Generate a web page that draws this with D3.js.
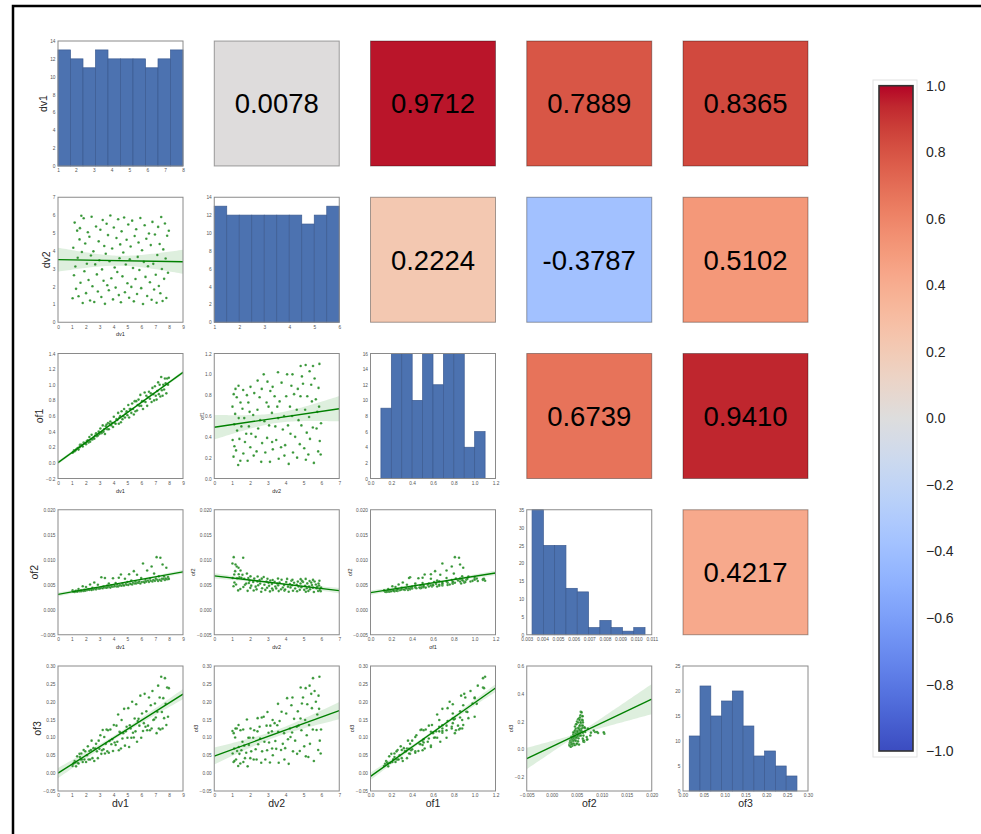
<!DOCTYPE html>
<html>
<head>
<meta charset="utf-8">
<script src="https://cdnjs.cloudflare.com/ajax/libs/d3/7.8.5/d3.min.js"></script>
<style>
body { margin: 0; background: #fff; }
svg text { font-family: "Liberation Sans", Arial, sans-serif; }
</style>
</head>
<body>
<div id="svg-holder"></div>
<script>
const names = ["dv1", "dv2", "of1", "of2", "of3"]

const dv1 = [1.05,1.10,1.15,1.20,1.25,1.30,1.38,1.42,1.48,1.55,1.58,1.62,1.68,
    1.72,1.78,1.85,1.90,1.96,2.02,2.08,2.15,2.20,2.26,2.31,2.37,
    2.42,2.48,2.55,2.61,2.68,2.74,2.80,2.87,2.93,2.98,3.05,
    3.12,3.17,3.22,3.28,3.33,3.38,3.44,3.50,3.55,3.60,3.66,3.71,3.77,
    3.84,3.90,3.96,4.02,4.08,4.15,4.21,4.27,4.33,4.38,4.43,4.48,
    4.53,4.58,4.64,4.70,4.76,4.82,4.88,4.94,5.00,5.06,5.12,5.17,
    5.23,5.28,5.34,5.40,5.46,5.52,5.58,5.63,5.69,5.74,5.80,5.86,
    5.93,5.99,6.05,6.12,6.18,6.24,6.30,6.36,6.42,6.48,6.55,
    6.62,6.68,6.74,6.80,6.86,6.92,6.98,7.04,7.10,7.15,7.21,7.26,
    7.32,7.37,7.43,7.48,7.53,7.58,7.64,7.70,7.75,7.80,7.86,7.92,7.98]
const dv2 = [1.34,4.17,2.63,5.58,3.12,1.87,5.13,3.61,1.46,4.64,5.27,2.21,5.96,
    3.93,1.08,5.82,2.86,4.41,1.63,3.28,5.04,2.37,4.79,1.22,3.74,
    5.91,2.02,3.97,1.13,3.24,5.36,2.68,1.72,4.53,3.47,5.18,
    1.41,2.96,5.73,2.32,4.27,1.03,3.84,5.52,2.07,4.88,1.79,3.42,5.98,
    2.46,4.13,1.28,5.31,3.07,1.94,4.72,2.81,5.77,1.52,3.58,4.36,
    1.12,5.09,2.57,3.91,5.87,1.68,3.23,4.62,2.18,5.47,1.37,3.53,
    4.24,1.98,5.69,3.04,1.17,4.83,2.42,5.21,1.58,3.66,4.47,2.93,
    5.84,1.91,4.03,1.02,3.38,5.43,2.54,4.68,1.47,3.14,4.97,
    2.24,4.32,1.26,5.62,3.27,1.83,4.91,2.66,1.09,3.77,5.34,2.03,
    4.38,1.62,5.89,2.98,1.19,4.08,2.43,5.53,3.57,1.36,4.84,2.77,5.12]
const of1 = [0.13,0.14,0.16,0.15,0.16,0.17,0.18,0.19,0.17,0.20,0.23,0.22,0.23,
    0.22,0.21,0.26,0.25,0.25,0.24,0.28,0.29,0.26,0.33,0.27,0.30,
    0.36,0.30,0.32,0.31,0.35,0.38,0.34,0.35,0.40,0.37,0.44,
    0.38,0.39,0.48,0.40,0.43,0.37,0.47,0.49,0.43,0.51,0.43,0.50,0.53,
    0.48,0.51,0.46,0.59,0.51,0.50,0.56,0.55,0.64,0.50,0.58,0.60,
    0.52,0.66,0.56,0.60,0.69,0.58,0.63,0.66,0.61,0.74,0.58,0.69,
    0.69,0.64,0.76,0.69,0.62,0.79,0.66,0.79,0.67,0.74,0.81,0.73,
    0.87,0.73,0.79,0.69,0.79,0.90,0.78,0.86,0.73,0.84,0.91,
    0.82,0.89,0.78,0.96,0.88,0.80,0.98,0.86,0.81,0.92,1.03,0.88,
    1.00,0.85,1.10,0.93,0.86,1.00,0.94,1.08,1.02,0.89,1.08,1.00,1.09]
const of2 = [0.00387,0.00359,0.00359,0.00356,0.00367,0.00378,0.00360,0.00373,0.00414,0.00370,0.00374,0.00384,0.00372,
    0.00383,0.00471,0.00374,0.00397,0.00381,0.00454,0.00393,0.00398,0.00408,0.00398,0.00506,0.00408,
    0.00395,0.00438,0.00406,0.00545,0.00426,0.00408,0.00429,0.00500,0.00426,0.00427,0.00430,
    0.00650,0.00440,0.00429,0.00462,0.00447,0.00635,0.00444,0.00442,0.00482,0.00452,0.00525,0.00464,0.00443,
    0.00490,0.00462,0.00630,0.00464,0.00478,0.00534,0.00465,0.00501,0.00464,0.00639,0.00488,0.00490,
    0.00706,0.00481,0.00523,0.00493,0.00484,0.00620,0.00517,0.00499,0.00555,0.00495,0.00710,0.00525,
    0.00515,0.00583,0.00505,0.00539,0.00772,0.00524,0.00567,0.00527,0.00699,0.00542,0.00541,0.00564,
    0.00526,0.00634,0.00556,0.00926,0.00558,0.00543,0.00596,0.00563,0.00784,0.00585,0.00557,
    0.00623,0.00581,0.00866,0.00565,0.00594,0.00723,0.00578,0.00622,0.01052,0.00600,0.00574,0.00668,
    0.00600,0.01040,0.00580,0.00620,0.00905,0.00617,0.00666,0.00597,0.00623,0.00840,0.00612,0.00654,0.00617]
const of3 = [0.020,0.026,0.029,0.034,0.030,0.019,0.047,0.029,0.027,0.054,0.045,0.038,0.055,
    0.038,0.031,0.065,0.038,0.061,0.031,0.050,0.075,0.038,0.062,0.038,0.065,
    0.091,0.042,0.070,0.034,0.069,0.082,0.061,0.042,0.091,0.068,0.106,
    0.054,0.064,0.121,0.067,0.101,0.055,0.082,0.122,0.061,0.120,0.057,0.090,0.122,
    0.081,0.095,0.062,0.135,0.086,0.079,0.133,0.088,0.164,0.064,0.116,0.114,
    0.069,0.149,0.097,0.112,0.180,0.077,0.117,0.130,0.099,0.182,0.073,0.134,
    0.125,0.099,0.200,0.113,0.100,0.153,0.117,0.193,0.088,0.146,0.152,0.133,
    0.217,0.099,0.167,0.118,0.140,0.222,0.130,0.173,0.120,0.133,0.212,
    0.120,0.190,0.125,0.230,0.149,0.150,0.195,0.156,0.112,0.172,0.245,0.125,
    0.212,0.122,0.270,0.171,0.125,0.210,0.154,0.266,0.194,0.135,0.240,0.158,0.238]
const columns = [dv1, dv2, of1, of2, of3]

// diagonal histograms: 10 bins each, and where the bins start / end
const histDv1 = [13,12,11,13,12,12,12,11,12,13]
const histDv2 = [13,12,12,12,12,12,12,11,12,13]
const histOf1 = [9,16,16,10,16,12,16,16,4,6]
const histOf2 = [35,25,25,13,12,2,4,2,1,2]
const histOf3 = [11,21,15,18,20,13,7,8,5,3]
const histCounts = [histDv1, histDv2, histOf1, histOf2, histOf3]
const histSpan = [[1,8],[1,6],[0.1,1.1],[0.00334,0.01057],[0.015,0.2735]]

// correlation labels, upper triangle read row by row
const corrRows = [0,0,0,0,1,1,1,2,2,3]
const corrCols = [1,2,3,4,2,3,4,3,4,4]
const corrValues = [0.0078,0.9712,0.7889,0.8365,0.2224,-0.3787,0.5102,0.6739,0.9410,0.4217]

// tick labels
const ticksDv1 = [0,1,2,3,4,5,6,7,8,9]
const ticksDv2 = [0,1,2,3,4,5,6,7]
const ticksOf1 = [0,0.2,0.4,0.6,0.8,1.0,1.2]
const ticksOf1Wide = [-0.2,0,0.2,0.4,0.6,0.8,1.0,1.2,1.4]
const ticksOf2 = [-0.005,0,0.005,0.010,0.015,0.020]
const ticksOf3 = [-0.05,0,0.05,0.10,0.15,0.20,0.25,0.30]
const ticksOf3Wide = [-0.2,0,0.2,0.4,0.6]
const histTicksX = [[1,2,3,4,5,6,7,8],[1,2,3,4,5,6],ticksOf1,
    [0.003,0.004,0.005,0.006,0.007,0.008,0.009,0.010,0.011],[0,0.05,0.10,0.15,0.20,0.25,0.30]]
const histTicksY = [[0,2,4,6,8,10,12,14],[0,2,4,6,8,10,12,14],[0,2,4,6,8,10,12,14,16],
    [0,5,10,15,20,25,30,35],[0,5,10,15,20,25]]
const cbTicks = [-1,-0.8,-0.6,-0.4,-0.2,0,0.2,0.4,0.6,0.8,1]

const axisDomain = [[0,9],[0,7],[0,1.2],[-0.005,0.02],[-0.05,0.3]]
const axisTicks = [ticksDv1, ticksDv2, ticksOf1, ticksOf2, ticksOf3]
const axisFmt = ["d", "d", ".1f", ".3f", ".2f"]

// coolwarm
const coolwarm = ["#3b4cc0","#445acc","#4d68d7","#5775e1","#6282ea","#6c8ef1","#779af7","#82a5fb",
    "#8db0fe","#98b9ff","#a3c2ff","#aec9fd","#b8d0f9","#c2d5f4","#ccd9ee","#d5dbe6","#dddddd",
    "#e5d8d1","#ecd3c5","#f1ccb8","#f5c4ac","#f7bba0","#f7b194","#f7a689","#f49a7b","#f18d70",
    "#ec7f63","#e57058","#de604d","#d55042","#cb3e38","#c0282f","#b40426"]
const color = d3.scaleLinear()
    .domain(coolwarm.map((c, i) => -1 + 2 * i / (coolwarm.length - 1)))
    .range(coolwarm)

let svg = d3.select("#svg-holder").append("svg"),
    width = 981,
    height = 834
svg.attr("width", width).attr("height", height)

// figure border, only top and left are in view
svg.append("rect")
    .attr("x", 13).attr("y", 6)
    .attr("width", 1100).attr("height", 1000)
    .attr("fill", "none").attr("stroke", "black").attr("stroke-width", 2.5)

const cell = 125, step = 156.25, left0 = 58, top0 = 41

function drawAxes(g, x, y, xt, yt, xf, yf) {
    let gx = g.append("g").attr("transform", `translate(0,${cell})`)
        .call(d3.axisBottom(x).tickValues(xt).tickFormat(d3.format(xf)).tickSize(0).tickPadding(3))
    let gy = g.append("g")
        .call(d3.axisLeft(y).tickValues(yt).tickFormat(d3.format(yf)).tickSize(0).tickPadding(2.5))
    ;[gx, gy].forEach(a => {
        a.select(".domain").remove()
        a.attr("font-size", 4.8).attr("font-family", null)
        a.selectAll("text").attr("fill", "#555")
    })
    return d3.max(gy.selectAll("text").nodes(), n => n.getComputedTextLength())
}

function frame(g) {
    g.append("rect")
        .attr("width", cell).attr("height", cell)
        .attr("fill", "none").attr("stroke", "#8a8a8a").attr("stroke-width", 1)
}

function regress(xs, ys) {
    let n = xs.length, mx = d3.mean(xs), my = d3.mean(ys)
    let sxx = d3.sum(xs, v => (v - mx) ** 2)
    let sxy = d3.sum(xs, (v, i) => (v - mx) * (ys[i] - my))
    let b = sxy / sxx, a = my - b * mx
    let s = Math.sqrt(d3.sum(xs, (v, i) => (ys[i] - a - b * v) ** 2) / (n - 2))
    return { fit: v => a + b * v, ci: v => 1.98 * s * Math.sqrt(1 / n + (v - mx) ** 2 / sxx) }
}

function yLabel(g, txt, w, big) {
    let off = big ? 6.5 : 3.5
    g.append("text")
        .attr("transform", `translate(${-2.5 - w - off},${cell / 2}) rotate(-90)`)
        .attr("text-anchor", "middle").attr("dy", "0.35em")
        .attr("font-size", big ? 10.5 : 5.5).attr("fill", "#262626")
        .text(txt)
}

function xLabel(g, txt, big) {
    g.append("text")
        .attr("x", cell / 2).attr("y", cell + (big ? 16 : 14))
        .attr("text-anchor", "middle")
        .attr("font-size", big ? 10.5 : 5.5).attr("fill", "#262626")
        .text(txt)
}

// histograms on the diagonal
function drawHist(i) {
    let g = svg.append("g").attr("transform", `translate(${left0 + i * step},${top0 + i * step})`)
    let xt = histTicksX[i], yt = histTicksY[i]
    let x = d3.scaleLinear().domain([xt[0], xt[xt.length - 1]]).range([0, cell])
    let y = d3.scaleLinear().domain([0, yt[yt.length - 1]]).range([cell, 0])
    let counts = histCounts[i], span = histSpan[i]
    let bw = (span[1] - span[0]) / counts.length
    g.selectAll(".bar").data(counts).enter().append("rect")
        .attr("x", (d, k) => x(span[0] + k * bw))
        .attr("width", x(span[0] + bw) - x(span[0]))
        .attr("y", d => y(d))
        .attr("height", d => cell - y(d))
        .attr("fill", "#4c72b0")
        .attr("stroke", "#3d5c92").attr("stroke-width", 0.7)
    let fmtX = i === 3 ? ".3f" : (i === 4 ? ".2f" : axisFmt[i])
    let w = drawAxes(g, x, y, xt, yt, fmtX, "d")
    frame(g)
    if (i === 0) yLabel(g, names[0], w, true)
    if (i === 4) xLabel(g, names[4], true)
}

// scatter with fitted line in the lower triangle
function drawScatter(r, c) {
    let g = svg.append("g").attr("transform", `translate(${left0 + c * step},${top0 + r * step})`)
    let xd = axisDomain[c], xt = axisTicks[c]
    let yd = axisDomain[r], yt = axisTicks[r], yf = axisFmt[r]
    if (r === 2 && c === 0) { yd = [-0.2, 1.4]; yt = ticksOf1Wide }
    if (r === 4 && c === 3) { yd = [-0.3, 0.6]; yt = ticksOf3Wide; yf = ".1f" }
    let x = d3.scaleLinear().domain(xd).range([0, cell])
    let y = d3.scaleLinear().domain(yd).range([cell, 0])

    let id = `clip-${r}-${c}`
    g.append("clipPath").attr("id", id).append("rect").attr("width", cell).attr("height", cell)
    let inner = g.append("g").attr("clip-path", `url(#${id})`)

    let xs = columns[c], ys = columns[r]
    let m = regress(xs, ys)
    let grid = d3.range(61).map(k => xd[0] + (xd[1] - xd[0]) * k / 60)
    inner.append("path")
        .datum(grid)
        .attr("d", d3.area().x(v => x(v)).y0(v => y(m.fit(v) - m.ci(v))).y1(v => y(m.fit(v) + m.ci(v))))
        .attr("fill", "#008000").attr("fill-opacity", 0.13)

    inner.append("g").selectAll("circle")
        .data(xs.map((v, k) => [v, ys[k]]))
        .enter().append("circle")
        .attr("cx", d => x(d[0])).attr("cy", d => y(d[1]))
        .attr("r", 1.3)
        .attr("fill", "#1f8a1f").attr("fill-opacity", 0.9)
        .attr("stroke", "#ffffff").attr("stroke-opacity", 0.5).attr("stroke-width", 0.3)

    inner.append("line")
        .attr("x1", x(xd[0])).attr("y1", y(m.fit(xd[0])))
        .attr("x2", x(xd[1])).attr("y2", y(m.fit(xd[1])))
        .attr("stroke", "#008000").attr("stroke-width", 1.4)

    let w = drawAxes(g, x, y, xt, yt, axisFmt[c], yf)
    frame(g)
    yLabel(g, names[r], w, c === 0)
    xLabel(g, names[c], r === 4)
}

// correlation squares in the upper triangle
function drawCorr() {
    corrValues.forEach((v, k) => {
        let g = svg.append("g")
            .attr("transform", `translate(${left0 + corrCols[k] * step},${top0 + corrRows[k] * step})`)
        g.append("rect")
            .attr("width", cell).attr("height", cell)
            .attr("fill", color(v))
            .attr("stroke", "rgba(0,0,0,0.35)").attr("stroke-width", 1)
        g.append("text")
            .attr("x", cell / 2).attr("y", cell / 2).attr("dy", "0.36em")
            .attr("text-anchor", "middle")
            .attr("font-size", 27.5).attr("fill", "black")
            .text(d3.format(".4f")(v).replace("−", "-"))
    })
}

function drawColorbar() {
    let top = 85.7, bottom = 751, x0 = 879, bw = 34
    let grad = svg.append("defs").append("linearGradient")
        .attr("id", "cw").attr("x1", 0).attr("y1", 1).attr("x2", 0).attr("y2", 0)
    grad.selectAll("stop").data(coolwarm).enter().append("stop")
        .attr("offset", (d, i) => i / (coolwarm.length - 1))
        .attr("stop-color", d => d)
    svg.append("rect")
        .attr("x", 873).attr("y", 80).attr("width", 44).attr("height", 677)
        .attr("fill", "white").attr("stroke", "#e2e2e2").attr("stroke-width", 1)
    svg.append("rect")
        .attr("x", x0).attr("y", top).attr("width", bw).attr("height", bottom - top)
        .attr("fill", "url(#cw)").attr("stroke", "#333").attr("stroke-width", 1.6)
    let y = d3.scaleLinear().domain([-1, 1]).range([bottom, top])
    svg.append("g").selectAll("text").data(cbTicks).enter().append("text")
        .attr("x", 926).attr("y", d => y(d)).attr("dy", "0.36em")
        .attr("font-size", 14).attr("fill", "#262626")
        .text(d => d3.format(".1f")(d))
}

drawCorr()
for (let r = 0; r < 5; r++) {
    for (let c = 0; c < r; c++) drawScatter(r, c)
    drawHist(r)
}
drawColorbar()
</script>
</body>
</html>
